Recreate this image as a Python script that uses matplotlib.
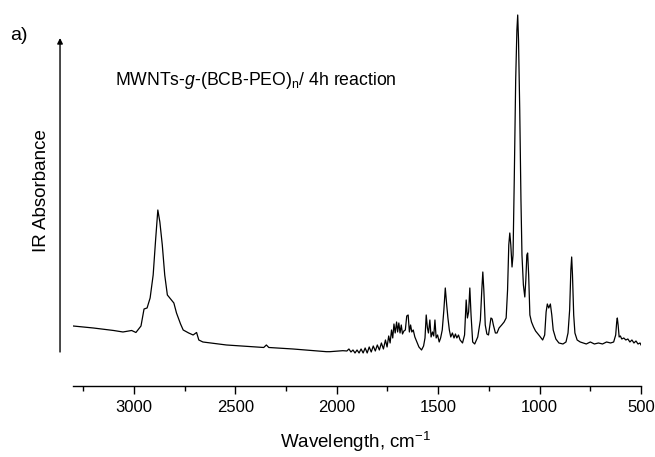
import matplotlib
matplotlib.use("Agg")
import matplotlib.pyplot as plt
from matplotlib.ticker import MultipleLocator

plt.rcParams['font.family'] = ['Liberation Sans', 'DejaVu Sans']
plt.rcParams['mathtext.fontset'] = 'custom'
plt.rcParams['mathtext.rm'] = 'Liberation Sans'
plt.rcParams['mathtext.it'] = 'Liberation Sans:italic'
plt.rcParams['mathtext.default'] = 'regular'

# IR spectrum (wavenumber in cm-1, absorbance in a.u.)
wavenumber = [
    3300, 3200, 3100, 3054, 3011, 2990, 2965, 2950, 2935, 2920, 2905, 2893,
    2882, 2872, 2860, 2848, 2835, 2815, 2803, 2790, 2770, 2757, 2730, 2708,
    2691, 2680, 2660, 2544, 2400, 2360, 2347, 2335, 2216, 2051, 2034, 1970,
    1950, 1940, 1930, 1920, 1910, 1900, 1890, 1880, 1870, 1860, 1850, 1840,
    1830, 1820, 1810, 1800, 1790, 1780, 1770, 1760, 1752, 1744, 1737, 1730,
    1724, 1718, 1712, 1705, 1700, 1694, 1688, 1682, 1676, 1669, 1662, 1655,
    1648, 1642, 1636, 1630, 1623, 1615, 1605, 1595, 1582, 1572, 1565, 1559,
    1553, 1548, 1541, 1535, 1528, 1522, 1516, 1510, 1503, 1495, 1488, 1480,
    1472, 1465, 1458, 1452, 1445, 1438, 1430, 1422, 1415, 1408, 1400, 1392,
    1380, 1370, 1362, 1356, 1350, 1344, 1338, 1330, 1320, 1305, 1292, 1285,
    1280, 1275, 1268, 1260, 1252, 1245, 1240, 1234, 1228, 1218, 1210, 1200,
    1187, 1175, 1165, 1158, 1152, 1147, 1142, 1136, 1131, 1125, 1118, 1112,
    1108, 1104, 1098, 1092, 1087, 1080, 1073, 1068, 1063, 1059, 1054, 1048,
    1040, 1030, 1020, 1000, 985, 975, 968, 962, 955, 947, 940, 933,
    920, 905, 885, 870, 860, 852, 846, 842, 838, 832, 826, 815,
    800, 785, 770, 750, 730, 710, 690, 670, 650, 635, 625, 620,
    617, 613, 608, 602, 595, 585, 575, 565, 555, 545, 535, 525,
    515, 505, 500,
]
absorbance = [
    0.34, 0.32, 0.295, 0.28, 0.295, 0.275, 0.34, 0.51, 0.52, 0.62, 0.85, 1.20,
    1.50, 1.38, 1.15, 0.85, 0.65, 0.60, 0.57, 0.47, 0.36, 0.30, 0.27, 0.25,
    0.275, 0.20, 0.18, 0.15, 0.13, 0.125, 0.15, 0.125, 0.11, 0.083, 0.083, 0.093,
    0.09, 0.11, 0.08, 0.10, 0.07, 0.10, 0.07, 0.11, 0.07, 0.12, 0.07, 0.13,
    0.08, 0.14, 0.09, 0.15, 0.10, 0.17, 0.11, 0.20, 0.13, 0.24, 0.17, 0.30,
    0.22, 0.36, 0.27, 0.38, 0.28, 0.37, 0.27, 0.35, 0.26, 0.29, 0.30, 0.44,
    0.45, 0.28, 0.35, 0.28, 0.30, 0.23, 0.18, 0.13, 0.10, 0.14, 0.22, 0.45,
    0.32, 0.27, 0.40, 0.23, 0.28, 0.24, 0.40, 0.22, 0.25, 0.18, 0.22, 0.30,
    0.50, 0.72, 0.55, 0.42, 0.30, 0.23, 0.27, 0.22, 0.26, 0.22, 0.25, 0.20,
    0.17, 0.25, 0.60, 0.42, 0.48, 0.72, 0.45, 0.18, 0.16, 0.23, 0.40, 0.70,
    0.88, 0.70, 0.35, 0.26, 0.25, 0.35, 0.42, 0.41, 0.35, 0.27, 0.27, 0.32,
    0.35, 0.38, 0.42, 0.70, 1.15, 1.27, 1.15, 0.93, 1.05, 1.80, 2.80, 3.30,
    3.45, 3.20, 2.50, 1.60, 1.05, 0.75, 0.63, 0.80, 1.05, 1.07, 0.85, 0.45,
    0.38, 0.33, 0.29, 0.24, 0.20, 0.25, 0.48, 0.56, 0.52, 0.56, 0.45, 0.30,
    0.21, 0.17, 0.16, 0.18, 0.27, 0.50, 0.90, 1.03, 0.85, 0.45, 0.27, 0.20,
    0.18, 0.17, 0.16, 0.18, 0.16, 0.17, 0.16, 0.18, 0.17, 0.18, 0.25, 0.38,
    0.42, 0.35, 0.23, 0.24, 0.21, 0.22, 0.20, 0.21, 0.18, 0.20, 0.17, 0.19,
    0.16, 0.17, 0.15,
]
x_ticks = [3000, 2500, 2000, 1500, 1000, 500]

fig = plt.figure(figsize=(6.55, 4.57), dpi=100)
ax = fig.add_axes([0.1115, 0.1554, 0.8672, 0.8227])

ax.plot(wavenumber, absorbance, color='black', lw=0.9)
ax.set_xlim(3300, 500)
ax.set_ylim(-0.26, 3.5)

for side in ['top', 'right', 'left']:
    ax.spines[side].set_visible(False)
ax.spines['bottom'].set_linewidth(1.0)
ax.set_yticks([])
ax.set_xticks(x_ticks)
ax.xaxis.set_minor_locator(MultipleLocator(250))
ax.tick_params(axis='x', which='major', direction='out', length=6, width=1,
               pad=4, labelsize=12)
ax.tick_params(axis='x', which='minor', direction='out', length=3.5, width=1)

# y axis drawn as a free arrow
ax.annotate('', xy=(-0.0229, 0.9255), xytext=(-0.0229, 0.0904),
            xycoords='axes fraction', textcoords='axes fraction',
            arrowprops=dict(arrowstyle='-|>', color='black', lw=1,
                            mutation_scale=8, shrinkA=0, shrinkB=0))

fig.text(42 / 655, 1 - 191 / 457, 'IR Absorbance', rotation=90,
         ha='center', va='center', fontsize=13.5)
fig.text(356 / 655, 1 - 448 / 457, 'Wavelength, cm$^{-1}$',
         ha='center', va='baseline', fontsize=13.5)
fig.text(10 / 655, 1 - 36 / 457, 'a)', ha='left', va='center', fontsize=14)
fig.text(115 / 655, 1 - 85 / 457,
         r'MWNTs-$\mathit{g}$-(BCB-PEO)$_\mathrm{n}$/ 4h reaction',
         ha='left', va='baseline', fontsize=12.7)

fig.savefig('out.png', dpi=100)
